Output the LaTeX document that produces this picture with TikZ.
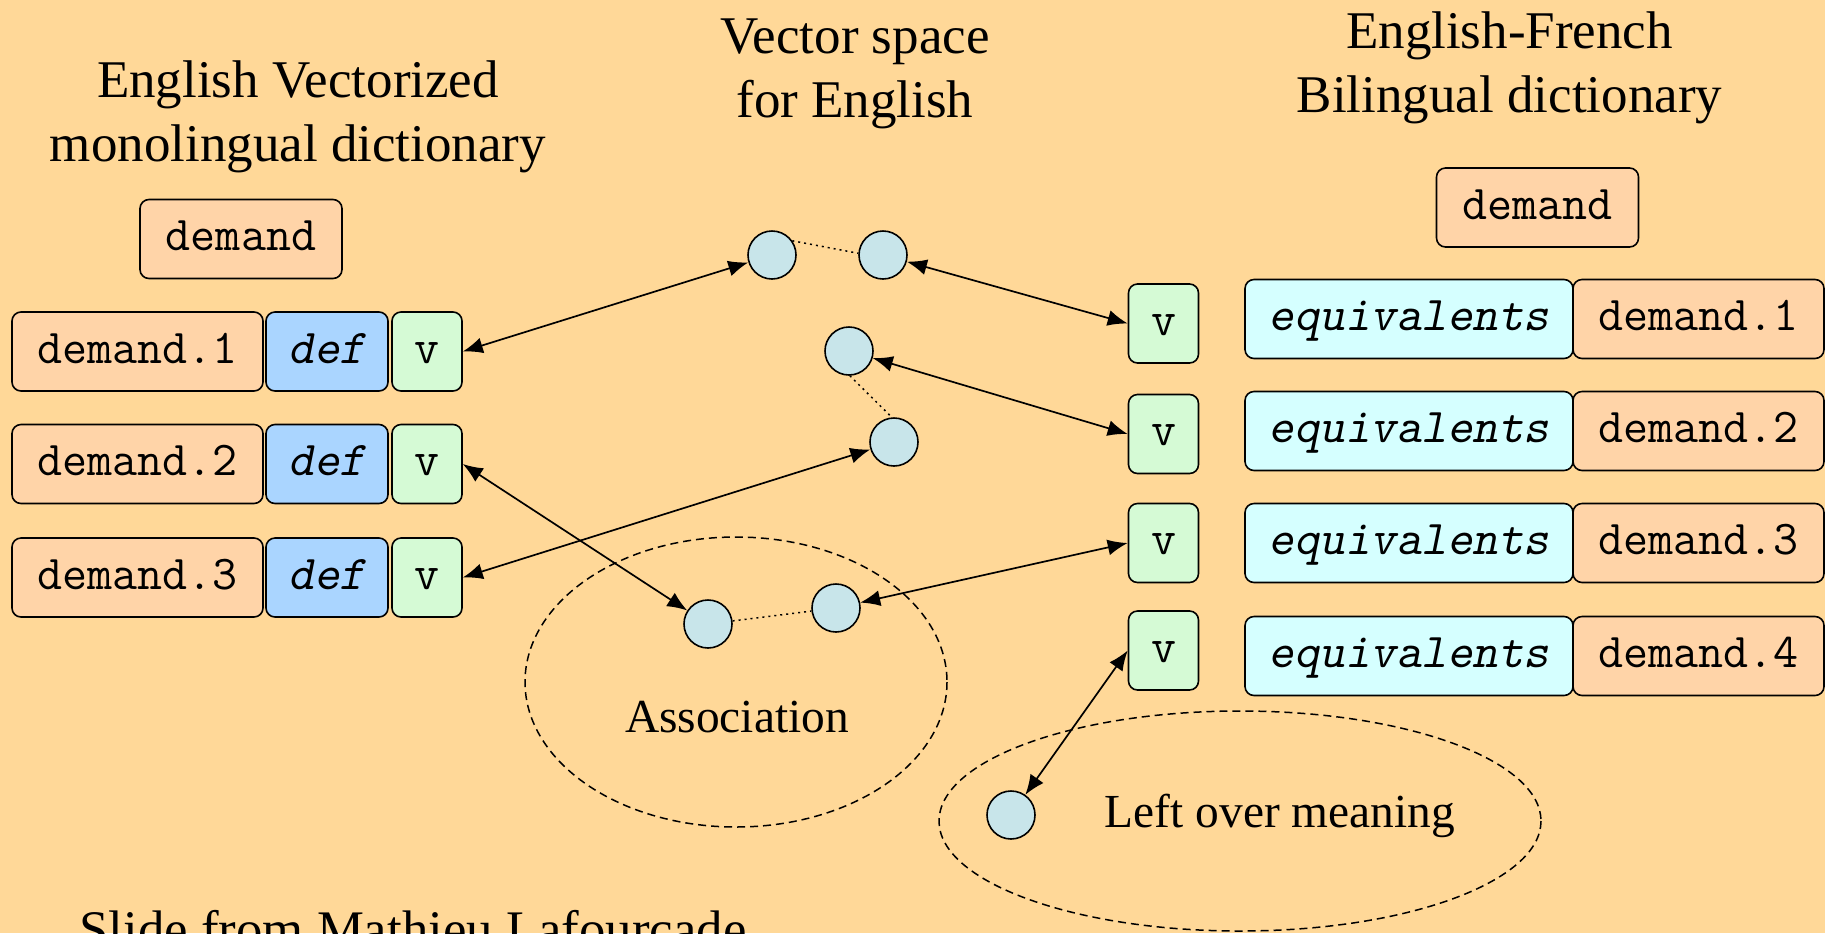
\documentclass[tikz,border=0pt]{standalone}
\usepackage{fontspec}
\setmainfont{Liberation Serif}
\newfontfamily\slantmono{lmmono10-regular.otf}[FakeSlant=0.2]
\usetikzlibrary{arrows.meta}

\definecolor{slidebg}{RGB}{255,216,152}
\definecolor{wordfill}{RGB}{255,212,168}
\definecolor{deffill}{RGB}{170,213,255}
\definecolor{vecfill}{RGB}{213,250,213}
\definecolor{eqfill}{RGB}{213,255,255}
\definecolor{dotfill}{RGB}{200,229,234}

\tikzset{
  box/.style={draw, line width=0.8pt, rounded corners=4.5pt, inner sep=0pt,
    minimum height=39.5pt, text height=13pt, text depth=1.5pt,
    font=\fontsize{24.3}{27}\selectfont\ttfamily},
  wordbox/.style={box, fill=wordfill, minimum width=125.5pt},
  defbox/.style={box, fill=deffill, minimum width=61pt,
    font=\fontsize{24.3}{27}\selectfont\slantmono},
  vecbox/.style={box, fill=vecfill, minimum width=35pt},
  eqbox/.style={box, fill=eqfill, minimum width=164pt,
    font=\fontsize{24.3}{27}\selectfont\slantmono},
  dot/.style={circle, draw, line width=0.8pt, fill=dotfill, minimum size=24pt, inner sep=0pt},
  title/.style={align=center, font=\fontsize{26.5}{32}\selectfont},
  label/.style={anchor=base, font=\fontsize{23.7}{28}\selectfont},
  link/.style={line width=0.85pt, {Latex[length=10pt,width=8pt]}-{Latex[length=10pt,width=8pt]}},
  tie/.style={line width=0.75pt, dash pattern=on 1pt off 2pt},
  zone/.style={line width=0.75pt, dash pattern=on 4pt off 2.5pt}
}

\begin{document}
\begin{tikzpicture}[x=0.5pt,y=0.5pt,yscale=-1,xscale=1]
\path [use as bounding box, fill=slidebg] (0,0) rectangle (1825,933);
\clip (0,0) rectangle (1825,933);

% titles
\node [title] (tmono) at (298,116.75) {English Vectorized\\monolingual dictionary};
\node [title] (tspace) at (855,74.25) {Vector space\\for English};
\node [title] (tbi) at (1509.5,68.25) {English-French\\Bilingual dictionary};

% monolingual dictionary
\node [wordbox, minimum width=101pt] (dmono) at (241,239) {demand};
\node [wordbox] (d1) at (137.5,351.5) {demand.1};
\node [defbox] (def1) at (327,351.5) {def};
\node [vecbox] (v1) at (427,351.5) {v};
\node [wordbox] (d2) at (137.5,464) {demand.2};
\node [defbox] (def2) at (327,464) {def};
\node [vecbox] (v2) at (427,464) {v};
\node [wordbox] (d3) at (137.5,577.5) {demand.3};
\node [defbox] (def3) at (327,577.5) {def};
\node [vecbox] (v3) at (427,577.5) {v};

% bilingual dictionary
\node [wordbox, minimum width=101pt] (dbi) at (1537.5,207.5) {demand};
\node [vecbox] (w1) at (1163.5,323.5) {v};
\node [eqbox] (eq1) at (1409,319) {equivalents};
\node [wordbox] (e1) at (1698.5,319) {demand.1};
\node [vecbox] (w2) at (1163.5,434) {v};
\node [eqbox] (eq2) at (1409,431) {equivalents};
\node [wordbox] (e2) at (1698.5,431) {demand.2};
\node [vecbox] (w3) at (1163.5,543) {v};
\node [eqbox] (eq3) at (1409,543) {equivalents};
\node [wordbox] (e3) at (1698.5,543) {demand.3};
\node [vecbox] (w4) at (1163.5,650.5) {v};
\node [eqbox] (eq4) at (1409,656) {equivalents};
\node [wordbox] (e4) at (1698.5,656) {demand.4};

% vector space
\node [dot] (c1) at (772,255) {};
\node [dot] (c2) at (883,255) {};
\node [dot] (c3) at (849,351) {};
\node [dot] (c4) at (894,442) {};
\node [dot] (c5) at (836,608) {};
\node [dot] (c6) at (708,624) {};
\node [dot] (c7) at (1011,815) {};

\draw [tie] (c1.35) -- (c2.176);
\draw [tie] (c3.-88) -- (c4.95);
\draw [tie] (c6) -- (c5);

\draw [zone] (736,682) ellipse [x radius=211, y radius=145];
\draw [zone] (1240,821) ellipse [x radius=301, y radius=110];
\node [label] (assoc) at (737,732) {Association};
\node [label] (left) at (1280,827) {Left over meaning};

\draw [link] (v1.east) -- (c1);
\draw [link] (c2) -- (w1.west);
\draw [link] (c3) -- (w2.west);
\draw [link] (v3.east) -- (c4);
\draw [link] (v2.east) -- (c6);
\draw [link] (c5) -- (w3.west);
\draw [link] (w4.west) -- (c7);

\node [anchor=base west, inner sep=0pt, font=\fontsize{26.4}{32}\selectfont] (credit) at (79,947) {Slide from Mathieu Lafourcade};
\end{tikzpicture}
\end{document}
